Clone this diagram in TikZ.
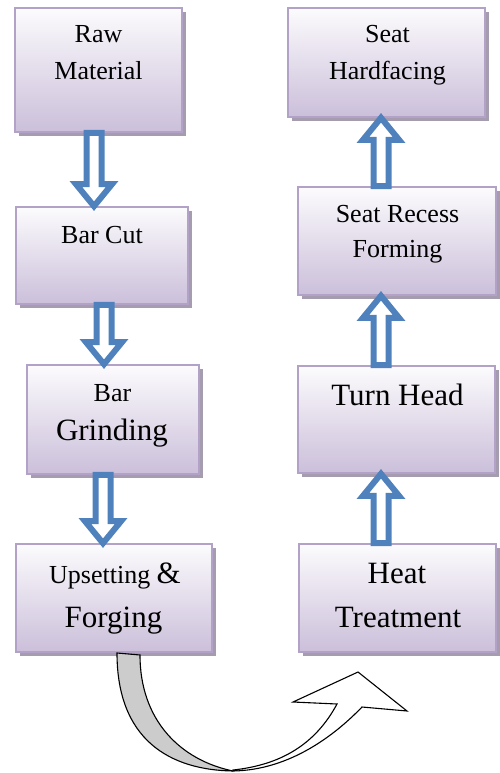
\documentclass[tikz,border=0pt]{standalone}
\usepackage{fontspec}
\setmainfont{Liberation Serif}
\usetikzlibrary{calc,shadows}
\definecolor{boxtop}{HTML}{FCFBFD}
\definecolor{boxbot}{HTML}{CBBFDA}
\definecolor{boxline}{HTML}{B3A2C7}
\definecolor{shadowc}{HTML}{A59CB0}
\definecolor{arrowblue}{HTML}{4F81BD}
\definecolor{curvegray}{HTML}{CCCCCC}
\newcommand{\blockarrow}[4]{% x, from, to, head offset (22 down, -22 up)
  \draw[blockarr] let \p1=(#2), \p2=(#3) in
   ({(#1-7.5)*1pt},\y1) -- ({(#1-7.5)*1pt},{\y2+(#4)*1pt}) -- ({(#1-18)*1pt},{\y2+(#4)*1pt})
   -- ({(#1)*1pt},\y2) -- ({(#1+18)*1pt},{\y2+(#4)*1pt}) -- ({(#1+7.5)*1pt},{\y2+(#4)*1pt})
   -- ({(#1+7.5)*1pt},\y1) -- cycle;}
\tikzset{
  procbox/.style={draw=boxline, line width=1.6pt, top color=boxtop, bottom color=boxbot,
    inner sep=0pt, drop shadow={shadow xshift=4pt, shadow yshift=-4pt, fill=shadowc, opacity=1}},
  tsmall/.style={font=\fontsize{26}{30}\selectfont, inner sep=0pt, anchor=base},
  tbig/.style={font=\fontsize{31}{36}\selectfont, inner sep=0pt, anchor=base},
  blockarr/.style={draw=arrowblue, fill=white, line width=6pt, line join=miter},
  curvepart/.style={draw=black, line width=1.1pt, line join=miter}
}
\begin{document}
\begin{tikzpicture}[x=1pt,y=-1pt]
\useasboundingbox (0,0) rectangle (499,773);
% boxes
\node[procbox, minimum width=167pt, minimum height=124pt] (rm) at (98.5,70) {};
\node[procbox, minimum width=172pt, minimum height=97pt] (bc) at (102,255.5) {};
\node[procbox, minimum width=172pt, minimum height=109pt] (bg) at (113,419.5) {};
\node[procbox, minimum width=196pt, minimum height=108pt] (uf) at (114,598) {};
\node[procbox, minimum width=197pt, minimum height=108pt] (ht) at (397.5,598) {};
\node[procbox, minimum width=197pt, minimum height=107pt] (th) at (396.5,419.5) {};
\node[procbox, minimum width=198pt, minimum height=108pt] (sr) at (397,241) {};
\node[procbox, minimum width=197pt, minimum height=109pt] (sh) at (386.5,62.5) {};
% texts
\node[tsmall] (rm1) at (98.5,43) {Raw};
\node[tsmall] (rm2) at (98.5,80) {Material};
\node[tsmall] (bc1) at (102,243) {Bar Cut};
\node[tsmall] (bg1) at (112.5,401) {Bar};
\node[tbig] (bg2) at (112,440) {Grinding};
\node[tsmall] (uf1) at (115,583) {Upsetting {\fontsize{31}{36}\selectfont\&}};
\node[tbig] (uf2) at (113.5,627) {Forging};
\node[tbig] (ht1) at (397,583) {Heat};
\node[tbig] (ht2) at (398,627) {Treatment};
\node[tbig] (th1) at (397.5,405) {Turn Head};
\node[tsmall] (sr1) at (397.5,222) {Seat Recess};
\node[tsmall] (sr2) at (397.5,257) {Forming};
\node[tsmall] (sh1) at (387.5,43) {Seat};
\node[tsmall] (sh2) at (387.5,80) {Hardfacing};
% block arrows
\blockarrow{94}{rm.south}{bc.north}{22}
\blockarrow{104}{bc.south}{bg.north}{22}
\blockarrow{103}{bg.south}{uf.north}{22}
\blockarrow{381}{ht.north}{th.south}{-22}
\blockarrow{381}{th.north}{sr.south}{-22}
\blockarrow{381}{sr.north}{sh.south}{-22}
% curved arrow from Upsetting & Forging to Heat Treatment
\coordinate (ca) at (117,653);
\coordinate (cb) at (140,655);
\coordinate (cbot) at (233,771);
\coordinate (cbot2) at (233,770);
\coordinate (cr) at (362,707);
\coordinate (cl) at (337,704);
\coordinate (hr) at (407,711);
\coordinate (tip) at (358,672);
\coordinate (hl) at (293,702);
\filldraw[curvepart, fill=curvegray] (ca) .. controls (117,740) and (170,770) .. (cbot)
  .. controls (180,760) and (140,720) .. (cb) -- cycle;
\filldraw[curvepart, fill=white] (cbot) .. controls (290,770) and (335,735) .. (cr)
  -- (hr) -- (tip) -- (hl) -- (cl) .. controls (315,745) and (280,765) .. (cbot2) -- cycle;
\end{tikzpicture}
\end{document}
